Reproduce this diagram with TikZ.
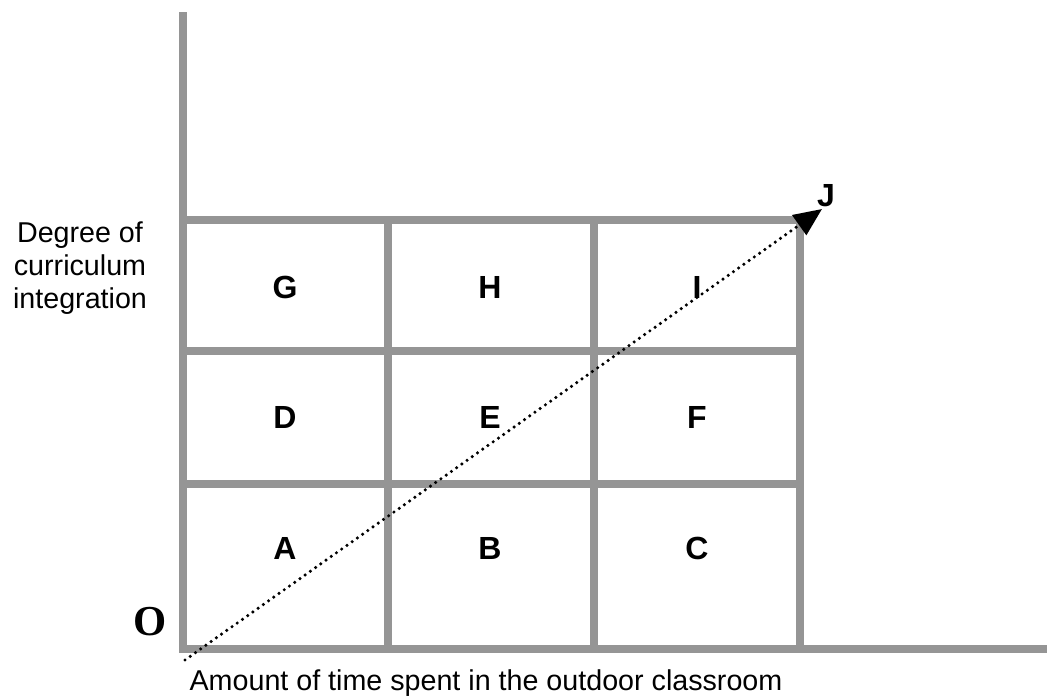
\documentclass[tikz,border=0pt]{standalone}
\usepackage{fontspec}
\setmainfont{Liberation Sans}
\newfontfamily\originfont{Liberation Serif}
\usetikzlibrary{positioning, arrows.meta}
\definecolor{axisgray}{HTML}{959595}

\begin{document}
\begin{tikzpicture}[
        x=0.75pt, y=-0.75pt,
        font=\fontsize{21.5}{24.5}\selectfont,
        axis/.style={draw=axisgray, line width=6pt},
        letter/.style={font=\fontsize{24}{28}\selectfont\bfseries},
        dotarrow/.style={line width=2.6pt, line cap=round, dash pattern=on 0pt off 4.8pt,
                         -{Triangle[length=21pt, width=18pt, line cap=butt]}}
    ]
        \useasboundingbox (0,0) rectangle (1047,700);

        % Axes
        \draw [axis, line join=miter] (183,12) -- (183,649) -- (1047,649);

        % Grid
        \draw [axis] (183,220) -- (800,220) -- (800,649);
        \foreach \y in {351,484} \draw [axis] (183,\y) -- (800,\y);
        \foreach \x in {388,594} \draw [axis] (\x,220) -- (\x,649);

        % Cells
        \node [letter] (G) at (285,287) {G};
        \node [letter] (H) at (490,287) {H};
        \node [letter] (I) at (697,287) {I};
        \node [letter] (D) at (285,417) {D};
        \node [letter] (E) at (490,417) {E};
        \node [letter] (F) at (697,417) {F};
        \node [letter] (A) at (285,548) {A};
        \node [letter] (B) at (490,548) {B};
        \node [letter] (C) at (697,548) {C};

        % Labels
        \node [font=\fontsize{32}{36}\selectfont\originfont\bfseries] (O) at (150,622) {O};
        \node [letter] (J) at (826,196) {J};
        \node [align=center] (ylabel) at (80,268) {Degree of\\curriculum\\integration};
        \node (xlabel) at (486,683) {Amount of time spent in the outdoor classroom};

        % Diagonal
        \coordinate (origin) at (185,660);
        \coordinate (tip) at (822,209);
        \draw [dotarrow] (origin) -- (tip);

    \end{tikzpicture}
\end{document}
